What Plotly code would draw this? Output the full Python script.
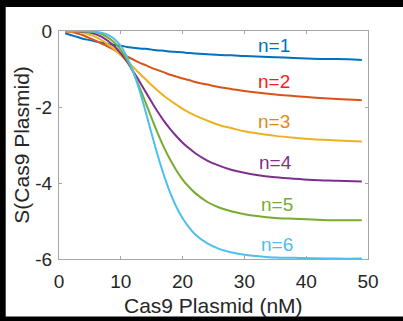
import plotly.graph_objects as go

# Data
x_nm = [1, 2, 3, 4, 5, 6, 7, 8, 9, 10, 11, 12, 13, 14, 15, 16, 17, 18, 19, 20,
        21, 22, 24, 26, 28, 30, 32, 35, 38, 41, 45, 49]
s_n1 = [-0.06, -0.11, -0.16, -0.21, -0.24, -0.28, -0.31, -0.34, -0.37, -0.39, -0.42, -0.44,
        -0.46, -0.47, -0.49, -0.51, -0.52, -0.54, -0.55, -0.56, -0.58, -0.59, -0.61, -0.63,
        -0.64, -0.66, -0.67, -0.69, -0.71, -0.73, -0.74, -0.76]
s_n2 = [-0.01, -0.03, -0.07, -0.12, -0.19, -0.26, -0.34, -0.42, -0.50, -0.59, -0.67, -0.75,
        -0.83, -0.90, -0.97, -1.03, -1.09, -1.15, -1.20, -1.25, -1.29, -1.34, -1.41, -1.48,
        -1.53, -1.58, -1.62, -1.67, -1.71, -1.75, -1.79, -1.82]
s_n3 = [0, -0.01, -0.02, -0.05, -0.10, -0.16, -0.25, -0.36, -0.49, -0.64, -0.79, -0.95,
        -1.11, -1.27, -1.43, -1.57, -1.71, -1.83, -1.94, -2.05, -2.14, -2.22, -2.36, -2.48,
        -2.56, -2.64, -2.69, -2.76, -2.81, -2.85, -2.88, -2.91]
s_n4 = [0, 0, -0.01, -0.02, -0.04, -0.09, -0.16, -0.27, -0.41, -0.59, -0.81, -1.06,
        -1.32, -1.60, -1.87, -2.13, -2.37, -2.58, -2.77, -2.94, -3.08, -3.21, -3.41, -3.55,
        -3.66, -3.73, -3.79, -3.85, -3.89, -3.92, -3.94, -3.96]
s_n5 = [0, 0, 0, -0.01, -0.02, -0.04, -0.09, -0.18, -0.31, -0.50, -0.76, -1.09,
        -1.47, -1.88, -2.30, -2.70, -3.07, -3.39, -3.67, -3.91, -4.10, -4.26, -4.50, -4.65,
        -4.75, -4.82, -4.87, -4.92, -4.94, -4.96, -4.98, -4.98]
s_n6 = [0, 0, 0, 0, -0.01, -0.02, -0.05, -0.11, -0.22, -0.40, -0.68, -1.06,
        -1.55, -2.11, -2.71, -3.29, -3.81, -4.26, -4.63, -4.93, -5.16, -5.35, -5.59, -5.74,
        -5.83, -5.89, -5.92, -5.96, -5.97, -5.98, -5.99, -5.99]

x_ticks = [0, 10, 20, 30, 40, 50]
y_ticks = [-6, -4, -2, 0]
y_tick_text = ["-6", "-4", "-2", "0"]
x_title = "Cas9 Plasmid (nM)"
y_title = "S(Cas9 Plasmid)"

series = [s_n1, s_n2, s_n3, s_n4, s_n5, s_n6]
labels = ["n=1", "n=2", "n=3", "n=4", "n=5", "n=6"]
line_colors = ["#0072BD", "#D95319", "#EDB120", "#7E2F8E", "#77AC30", "#4DBEEE"]
text_colors = ["#0072BD", "#FF1A1A", "#DC8A1E", "#7E2F8E", "#77AC30", "#4DBEEE"]
label_x = [34.8, 34.8, 34.8, 35.0, 35.2, 35.2]
label_y = [-0.37, -1.34, -2.39, -3.47, -4.57, -5.62]

FONT = "Liberation Sans, Arial, sans-serif"

fig = go.Figure()
for s, c, name in zip(series, line_colors, labels):
    fig.add_trace(go.Scatter(x=x_nm, y=s, mode="lines", name=name,
                             line=dict(color=c, width=2, shape="spline"),
                             showlegend=False))

for lx, ly, t, c in zip(label_x, label_y, labels, text_colors):
    fig.add_annotation(x=lx, y=ly, text=t, showarrow=False,
                       font=dict(family=FONT, size=19, color=c),
                       xanchor="center", yanchor="middle")

# axis titles
fig.add_annotation(xref="paper", yref="paper", x=0.5, y=-0.205, text=x_title,
                   showarrow=False, xanchor="center", yanchor="middle",
                   font=dict(family=FONT, size=21, color="#262626"))
fig.add_annotation(xref="paper", yref="paper", x=-0.124, y=0.5, text=y_title,
                   showarrow=False, xanchor="center", yanchor="middle", textangle=-90,
                   font=dict(family=FONT, size=21, color="#262626"))

# white panel on black background
fig.add_shape(type="rect", xref="paper", yref="paper",
              x0=-0.1725, x1=1.12, y0=-0.2527, y1=1.1051,
              fillcolor="white", line=dict(width=0), layer="below")

axis_common = dict(showgrid=False, zeroline=False, showline=True, mirror="ticks",
                   linecolor="#A6A6A6", linewidth=1, ticks="inside", ticklen=3,
                   tickcolor="#A6A6A6", tickfont=dict(family=FONT, size=19, color="#262626"))

fig.update_layout(
    width=403, height=321,
    margin=dict(l=59, r=35, t=31, b=62),
    paper_bgcolor="black", plot_bgcolor="white",
    xaxis=dict(range=[0, 50], tickvals=x_ticks, ticklabelstandoff=5, **axis_common),
    yaxis=dict(range=[-6, 0], tickvals=y_ticks, ticktext=y_tick_text, ticklabelstandoff=2,
               **axis_common),
)

fig.write_html("out.html")
